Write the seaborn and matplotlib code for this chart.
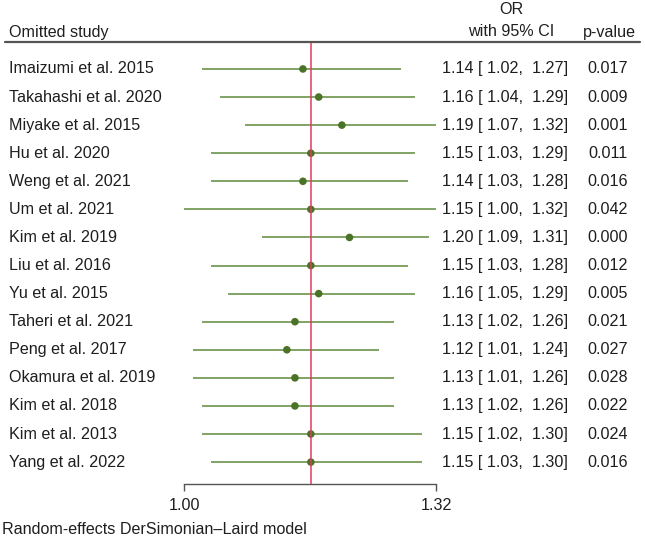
import numpy as np
import pandas as pd
import matplotlib
matplotlib.use("Agg")
import matplotlib.pyplot as plt
import matplotlib.transforms as mtransforms
import seaborn as sns

studies = ["Imaizumi et al. 2015", "Takahashi et al. 2020", "Miyake et al. 2015",
           "Hu et al. 2020", "Weng et al. 2021", "Um et al. 2021", "Kim et al. 2019",
           "Liu et al. 2016", "Yu et al. 2015", "Taheri et al. 2021", "Peng et al. 2017",
           "Okamura et al. 2019", "Kim et al. 2018", "Kim et al. 2013", "Yang et al. 2022"]
or_est = [1.14, 1.16, 1.19, 1.15, 1.14, 1.15, 1.20, 1.15, 1.16, 1.13, 1.12, 1.13, 1.13, 1.15, 1.15]
ci_low = [1.02, 1.04, 1.07, 1.03, 1.03, 1.00, 1.09, 1.03, 1.05, 1.02, 1.01, 1.01, 1.02, 1.02, 1.03]
ci_high = [1.27, 1.29, 1.32, 1.29, 1.28, 1.32, 1.31, 1.28, 1.29, 1.26, 1.24, 1.26, 1.26, 1.30, 1.30]
p_values = ["0.017", "0.009", "0.001", "0.011", "0.016", "0.042", "0.000", "0.012",
            "0.005", "0.021", "0.027", "0.028", "0.022", "0.024", "0.016"]
overall = 1.15
x_ticks = [1.00, 1.32]

df = pd.DataFrame({"study": studies, "or": or_est, "lo": ci_low, "hi": ci_high, "p": p_values})
df["row"] = np.arange(len(df))

sns.set_theme(style="white")
plt.rcParams["font.family"] = ["Liberation Sans", "DejaVu Sans"]
fs = 11.6
txt = "#1e1e1e"
line_col = "#5e8c3a"
dot_col = "#4a7328"
red = "#e23a62"
grey = "#555555"

W, H = 645, 538
fig = plt.figure(figsize=(W / 100, H / 100), dpi=100)
ax = fig.add_axes([184 / W, (H - 484) / H, 252 / W, (484 - 42) / H])

ax.hlines(df["row"], df["lo"], df["hi"], color=line_col, lw=1.1, zorder=2)
sns.scatterplot(data=df, x="or", y="row", color=dot_col, s=30, edgecolor="none", ax=ax, zorder=3)
ax.axvline(overall, color=red, lw=1.1, zorder=4)

ax.set_xscale("log")
ax.set_xlim(1.00, 1.32)
ax.set_ylim(14.78, -0.96)
ax.set_xticks(x_ticks)
ax.set_xticklabels([f"{t:.2f}" for t in x_ticks], fontsize=fs, color=txt)
ax.xaxis.set_minor_locator(matplotlib.ticker.NullLocator())
ax.set_yticks([])
ax.set_xlabel("")
ax.set_ylabel("")
for s in ["top", "left", "right"]:
    ax.spines[s].set_visible(False)
ax.spines["bottom"].set_color(grey)
ax.spines["bottom"].set_linewidth(1.0)
ax.tick_params(axis="x", direction="out", length=5, width=1.0, color=grey, pad=5, bottom=True)

# text columns: x in figure pixels, y in data rows
trans = mtransforms.blended_transform_factory(fig.transFigure, ax.transData)
for _, r in df.iterrows():
    ax.text(9 / W, r["row"], r["study"], transform=trans, ha="left", va="center",
            fontsize=fs, color=txt)
    ax.text(568 / W, r["row"], f"{r['or']:.2f} [ {r['lo']:.2f},  {r['hi']:.2f}]",
            transform=trans, ha="right", va="center", fontsize=fs, color=txt)
    ax.text(628 / W, r["row"], r["p"], transform=trans, ha="right", va="center",
            fontsize=fs, color=txt)

# header
fig.text(9 / W, 1 - 32 / H, "Omitted study", ha="left", va="center", fontsize=fs, color=txt)
fig.text(511 / W, 1 - 10 / H, "OR", ha="center", va="center", fontsize=fs, color=txt)
fig.text(511 / W, 1 - 32 / H, "with 95% CI", ha="center", va="center", fontsize=fs, color=txt)
fig.text(636 / W, 1 - 32 / H, "p-value", ha="right", va="center", fontsize=fs, color=txt)
fig.add_artist(plt.Line2D([5 / W, 640 / W], [1 - 42 / H, 1 - 42 / H], color=grey, lw=1.6))

fig.text(2 / W, 1 - 530 / H, "Random-effects DerSimonian\u2013Laird model", ha="left", va="center",
         fontsize=fs, color=txt)

fig.savefig("out.png", dpi=100, facecolor="white")
